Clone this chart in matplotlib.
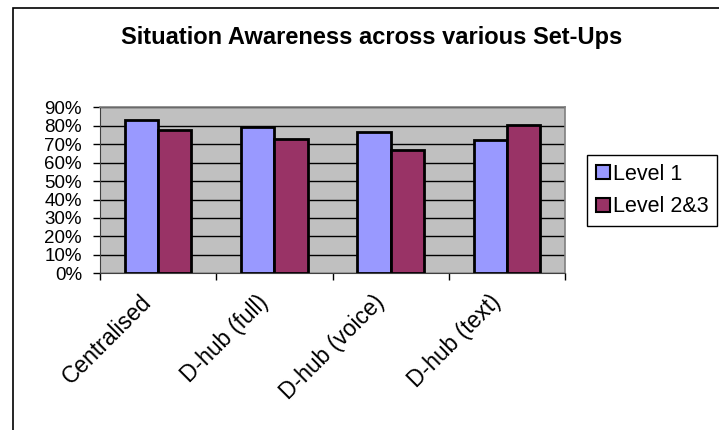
import matplotlib
matplotlib.use("Agg")
import matplotlib.pyplot as plt
import numpy as np
from matplotlib.patches import Rectangle
from matplotlib.transforms import ScaledTranslation

categories = ["Centralised", "D-hub (full)", "D-hub (voice)", "D-hub (text)"]
level1 = [83.3, 79.1, 76.8, 72.2]
level23 = [77.8, 72.7, 66.7, 80.6]
series_names = ["Level 1", "Level 2&3"]
yticks = list(range(0, 100, 10))
ytick_labels = [f"{v}%" for v in yticks]

plt.rcParams['font.family'] = ['Liberation Sans', 'DejaVu Sans']

W, H = 719, 430
fig = plt.figure(figsize=(W / 100, H / 100), dpi=100)
fig.patch.set_facecolor('white')

# chart border (left and top visible)
fig.add_artist(Rectangle((13 / W, -0.5), 2, 0.5 + 1 - 8 / H, transform=fig.transFigure,
                         fill=False, edgecolor='black', linewidth=1.2))

ax = fig.add_axes([100 / W, 1 - 273.3 / H, 465 / W, (273.3 - 107.3) / H])
ax.set_facecolor('#C0C0C0')

x = np.arange(len(categories))
bw = 0.2867
ax.bar(x - bw / 2, level1, bw, color='#9999FF', edgecolor='black', linewidth=2.0,
       label=series_names[0], zorder=3)
ax.bar(x + bw / 2, level23, bw, color='#993366', edgecolor='black', linewidth=2.0,
       label=series_names[1], zorder=3)

ax.set_xlim(-0.5, len(categories) - 0.5)
ax.set_ylim(0, 90)
ax.set_yticks(yticks)
ax.set_yticklabels(ytick_labels, fontsize=13.5)
ax.yaxis.grid(True, color='black', linewidth=1.0, zorder=1)
ax.set_axisbelow(True)

ax.set_xticks(x)
ax.set_xticklabels(categories, fontsize=16.5, rotation=45, ha='right', va='baseline',
                   rotation_mode='anchor')
ax.tick_params(axis='x', length=0, pad=21.5)
for lab in ax.get_xticklabels():
    lab.set_transform(lab.get_transform() + ScaledTranslation(-0.05, 0, fig.dpi_scale_trans))
ax.set_xticks(np.arange(-0.5, len(categories), 1.0), minor=True)
ax.tick_params(axis='x', which='minor', length=5, width=1, color='black', direction='out')
ax.tick_params(axis='y', length=5, width=1, color='black', direction='out', pad=8)

for s in ['top', 'right']:
    ax.spines[s].set_color('#808080')
    ax.spines[s].set_linewidth(1.2)
ax.spines['left'].set_color('#404040')
ax.spines['bottom'].set_color('#404040')

fig.text(372 / W, 1 - 44.3 / H, "Situation Awareness across various Set-Ups",
         ha='center', va='baseline', fontsize=17, fontweight='bold')

leg = ax.legend(loc='upper left', bbox_to_anchor=(587 / W, 1 - 155 / H),
                bbox_transform=fig.transFigure, borderaxespad=0, fontsize=15.5,
                frameon=True, fancybox=False, edgecolor='black', framealpha=1,
                handlelength=0.65, handleheight=0.65, handletextpad=0.15,
                borderpad=0.4, labelspacing=0.55)
leg.get_frame().set_linewidth(1.0)
for h in leg.legend_handles:
    h.set_linewidth(1.5)

fig.savefig("out.png", dpi=100)
